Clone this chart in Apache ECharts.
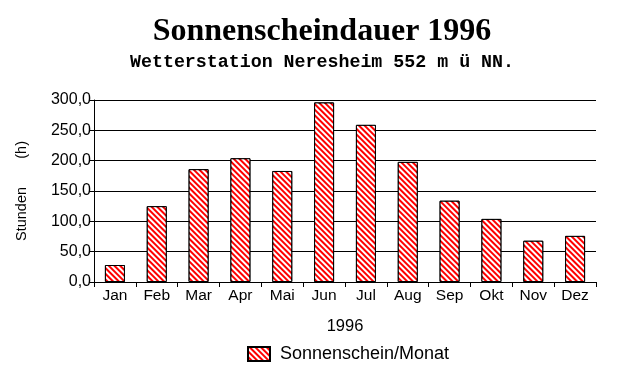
<!DOCTYPE html>
<html><head><meta charset="utf-8">
<script src="https://cdn.jsdelivr.net/npm/echarts@6/dist/echarts.min.js"></script>
<style>html,body{margin:0;padding:0;background:#fff}#c{width:644px;height:379px}</style>
</head><body><div id="c"></div>
<script>
const months = ['Jan','Feb','Mar','Apr','Mai','Jun','Jul','Aug','Sep','Okt','Nov','Dez'];
const sunshine = [28, 125, 186, 204, 183, 296, 259, 198, 134, 104, 68, 76];
const yTicks = [0, 50, 100, 150, 200, 250, 300];

const hatchDecal = {
  symbol: 'rect', symbolSize: 1, color: '#ffffff',
  dashArrayX: [1, 0], dashArrayY: [1.3, 1.9], rotation: Math.PI / 4
};

const chart = echarts.init(document.getElementById('c'), null, {renderer: 'canvas'});
chart.setOption({
  animation: false,
  title: [
    {text: 'Sonnenscheindauer 1996', left: 'center', top: 11,
     textStyle: {fontFamily: 'Liberation Serif', fontWeight: 'bold', fontSize: 32, color: '#000'}},
    {text: 'Wetterstation Neresheim 552 m ü NN.', left: 'center', top: 48,
     textStyle: {fontFamily: 'Liberation Mono', fontWeight: 'bold', fontSize: 18.3, color: '#000'}}
  ],
  legend: {
    bottom: 11, left: 242, itemWidth: 22, itemHeight: 14, itemGap: 8,
    textStyle: {fontFamily: 'Liberation Sans', fontSize: 18, color: '#000', padding: [0, 0, 0, 5]},
    data: [{name: 'Sonnenschein/Monat', icon: 'rect'}]
  },
  grid: {left: 94, right: 48, top: 100, bottom: 97, containLabel: false},
  xAxis: {
    type: 'category', data: months, name: '1996', nameLocation: 'middle', nameGap: 36,
    nameTextStyle: {fontFamily: 'Liberation Sans', fontSize: 16.5, color: '#000'},
    axisLine: {lineStyle: {color: '#000', width: 1}},
    axisTick: {show: true, inside: false, length: 5, alignWithLabel: false, lineStyle: {color: '#000'}},
    axisLabel: {fontFamily: 'Liberation Sans', fontSize: 15.5, color: '#000', margin: 6}
  },
  yAxis: {
    type: 'value', min: yTicks[0], max: yTicks[yTicks.length-1], interval: 50,
    name: 'Stunden       (h)', nameLocation: 'middle', nameGap: 65, nameRotate: 90,
    nameTextStyle: {fontFamily: 'Liberation Sans', fontSize: 14.5, color: '#000'},
    axisLine: {show: true, lineStyle: {color: '#000', width: 1}},
    axisTick: {show: true, length: 4, lineStyle: {color: '#000'}},
    axisLabel: {fontFamily: 'Liberation Sans', fontSize: 16, color: '#000', margin: 3,
      formatter: v => v.toFixed(1).replace('.', ',')},
    splitLine: {show: true, lineStyle: {color: '#000', width: 1}}
  },
  series: [{
    name: 'Sonnenschein/Monat', type: 'bar', data: sunshine, barWidth: 20,
    itemStyle: {color: '#ff0000', borderColor: '#000', borderWidth: 1, decal: hatchDecal}
  }]
});
</script></body></html>
